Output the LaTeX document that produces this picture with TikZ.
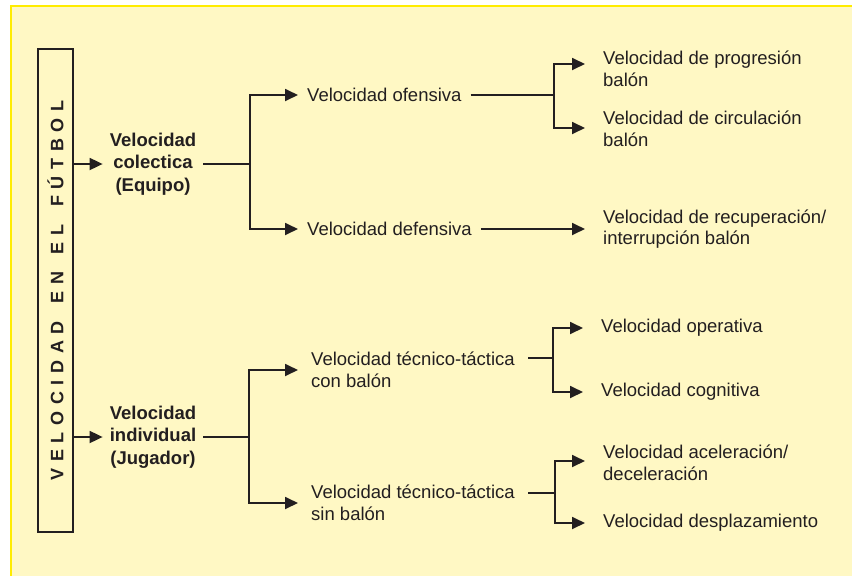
\documentclass[tikz,border=0pt]{standalone}
\usepackage{fontspec}
\setmainfont{Liberation Sans}
\newfontfamily\fuentetitulo[LetterSpace=37]{Liberation Sans}
\usetikzlibrary{arrows.meta}
\definecolor{fondo}{RGB}{255,248,196}
\definecolor{marco}{RGB}{255,236,0}
\definecolor{tinta}{RGB}{35,31,32}
\tikzset{
  rama/.style={line width=1.8pt, draw=tinta},
  flecha/.style={rama, -{Triangle[length=13pt,width=12pt]}},
  texto/.style={font=\fontsize{18.5}{21.5}\selectfont, text=tinta, align=left, anchor=west, inner xsep=9pt, inner ysep=0pt},
  hoja/.style={texto, inner xsep=18pt},
  grupo/.style={texto, font=\bfseries\fontsize{18.5}{22.5}\selectfont, align=center, anchor=center, inner xsep=7pt},
  titulo/.style={draw=tinta, line width=1.3pt, rotate=90, minimum width=483pt, minimum height=35pt, inner sep=0pt, text=tinta}
}
\newcommand{\espaciado}[1]{{\fuentetitulo\bfseries\fontsize{18}{18}\selectfont #1}}
\newcommand{\hueco}{\hspace{6pt}}

\begin{document}
\begin{tikzpicture}[x=1pt,y=-1pt]
        \useasboundingbox (0,0) rectangle (852,576);
        % fondo
        \fill[fondo] (11,6) rectangle (852,576);
        \draw[marco, line width=2.5pt] (852,6) -- (11,6) -- (11,576);
        % caja vertical
        \node[titulo] (vel) at (55.5,290.5) {\espaciado{VELOCIDAD \hueco EN \hueco EL \hueco FÚTBOL}};
        % grupos
        \node[grupo] (col) at (153,164) {Velocidad\\colectica\\(Equipo)};
        \node[grupo] (ind) at (153,437) {Velocidad\\individual\\(Jugador)};
        % nivel 2
        \node[texto] (ofe) at (298,95) {Velocidad ofensiva};
        \node[texto] (def) at (298,229) {Velocidad defensiva};
        \node[texto, inner xsep=13pt] (ccb) at (298,370) {Velocidad técnico-táctica\\con balón};
        \node[texto, inner xsep=13pt] (csb) at (298,503) {Velocidad técnico-táctica\\sin balón};
        % nivel 3
        \node[hoja] (prog) at (585,69) {Velocidad de progresión\\balón};
        \node[hoja] (circ) at (585,129) {Velocidad de circulación\\balón};
        \node[hoja] (recu) at (585,229) {Velocidad de recuperación/\\interrupción balón};
        \node[hoja] (oper) at (583,328) {Velocidad operativa};
        \node[hoja] (cogn) at (583,392) {Velocidad cognitiva};
        \node[hoja] (acel) at (585,463) {Velocidad aceleración/\\deceleración};
        \node[hoja] (desp) at (585,523) {Velocidad desplazamiento};
        % puntos de rama
        \coordinate (b1) at (250,164);
        \coordinate (b2) at (554,95);
        \coordinate (b3) at (249,437);
        \coordinate (b4) at (553,358);
        \coordinate (b5) at (555,493);
        % conexiones colectiva
        \draw[flecha] (vel.south |- col) -- (col.west);
        \draw[rama] (col.east) -- (b1);
        \draw[flecha] (b1) |- (ofe.west);
        \draw[flecha] (b1) |- (def.west);
        \draw[rama] (ofe.east) -- (b2);
        \draw[flecha] (b2) |- ([yshift=5pt]prog.west);
        \draw[flecha] (b2) |- ([yshift=1pt]circ.west);
        \draw[flecha] (def.east) -- (recu.west);
        % conexiones individual
        \draw[flecha] (vel.south |- ind) -- (ind.west);
        \draw[rama] (ind.east) -- (b3);
        \draw[flecha] (b3) |- (ccb.west);
        \draw[flecha] (b3) |- (csb.west);
        \draw[rama] ([yshift=12pt]ccb.east) -- (b4);
        \draw[flecha] (b4) |- (oper.west);
        \draw[flecha] (b4) |- (cogn.west);
        \draw[rama] ([yshift=10pt]csb.east) -- (b5);
        \draw[flecha] (b5) |- ([yshift=2pt]acel.west);
        \draw[flecha] (b5) |- (desp.west);
\end{tikzpicture}
\end{document}
